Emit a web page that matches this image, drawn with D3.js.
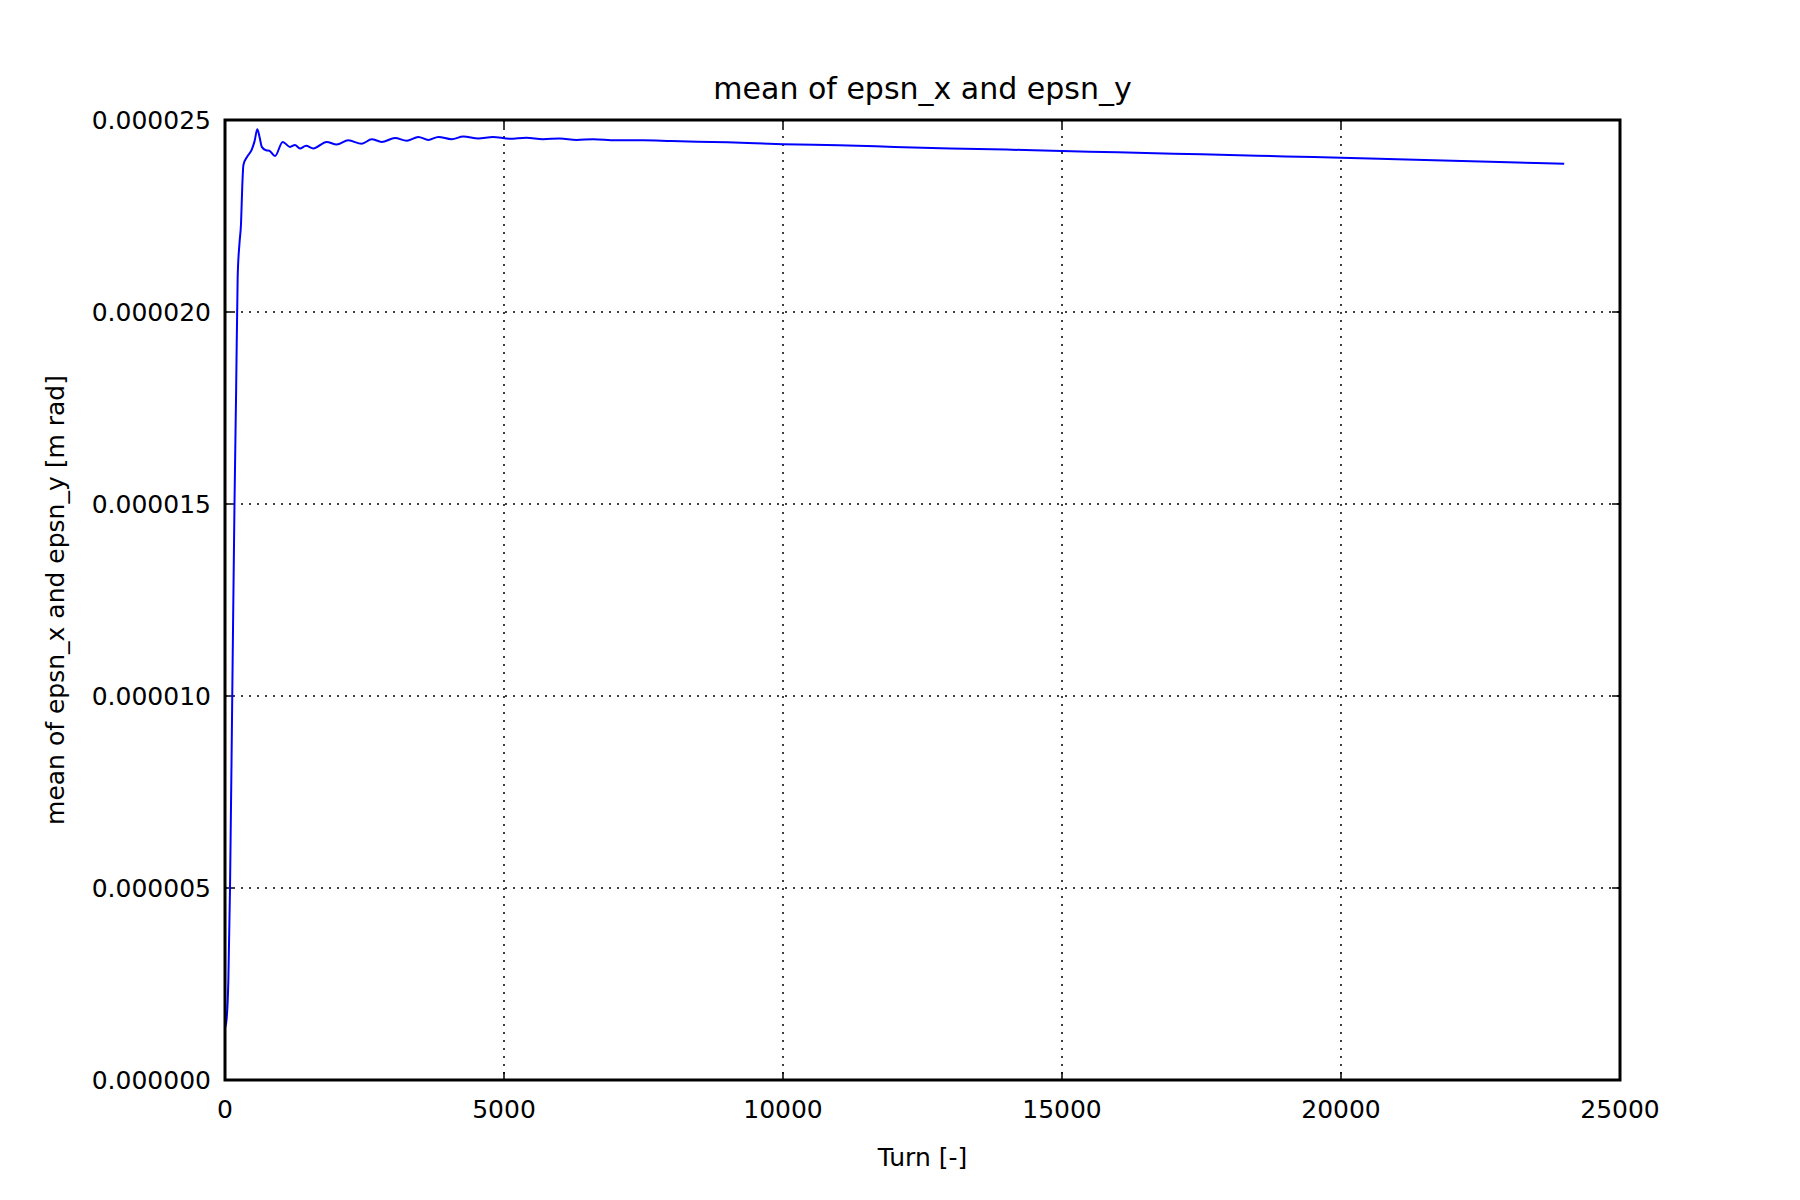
<!DOCTYPE html>
<html><head><meta charset="utf-8">
<script src="https://cdn.jsdelivr.net/npm/d3@7"></script>
<style>body{margin:0;background:#fff}text{font-family:"DejaVu Sans",sans-serif}</style>
</head><body><svg id="c" width="1800" height="1200"></svg>
<script>
const turns = [0,30,60,90,130,170,200,227,260,287,310,330,400,478,530,579,620,660,735,795,896,1034,1165,1254,1344,1452,1583,1822,2001,2210,2450,2629,2808,3047,3256,3465,3644,3823,4062,4271,4540,4800,5100,5400,5700,6000,6300,6600,7000,7500,8000,9000,10000,11000,12000,13000,14000,15000,16000,17000,18000,19000,20000,21000,22000,23000,24000];
const epsn = [1.35,1.6,2.6,5,10,15,18,20.9,21.8,22.3,23.3,23.83,24.05,24.22,24.45,24.76,24.55,24.3,24.21,24.2,24.06,24.43,24.3,24.35,24.26,24.33,24.26,24.43,24.36,24.47,24.38,24.5,24.43,24.53,24.46,24.56,24.48,24.56,24.5,24.57,24.52,24.56,24.51,24.54,24.5,24.52,24.48,24.5,24.47,24.47,24.45,24.42,24.37,24.34,24.3,24.26,24.23,24.19,24.16,24.12,24.09,24.05,24.02,23.98,23.94,23.9,23.86].map(v => v * 1e-6);
const xTicks = [0,5000,10000,15000,20000,25000];
const yTicks = [0,5e-6,10e-6,15e-6,20e-6,25e-6];

const svg = d3.select('#c');
const L = 225, R = 1620, T = 120, B = 1080;
const x = d3.scaleLinear().domain([0, 25000]).range([L, R]);
const y = d3.scaleLinear().domain([0, 25e-6]).range([B, T]);

// grid
svg.append('g').selectAll('line').data(xTicks.slice(1, -1)).enter().append('line')
	.attr('x1', d => x(d)).attr('x2', d => x(d)).attr('y1', T).attr('y2', B)
	.attr('stroke', '#000').attr('stroke-width', 1.5).attr('stroke-dasharray', '2,6');
svg.append('g').selectAll('line').data(yTicks.slice(1, -1)).enter().append('line')
	.attr('y1', d => y(d)).attr('y2', d => y(d)).attr('x1', L).attr('x2', R)
	.attr('stroke', '#000').attr('stroke-width', 1.5).attr('stroke-dasharray', '2,6');

// ticks inside on all sides
const tk = 8;
xTicks.forEach(d => {
	svg.append('line').attr('x1', x(d)).attr('x2', x(d)).attr('y1', B).attr('y2', B - tk).attr('stroke', '#000').attr('stroke-width', 1.5);
	svg.append('line').attr('x1', x(d)).attr('x2', x(d)).attr('y1', T).attr('y2', T + tk).attr('stroke', '#000').attr('stroke-width', 1.5);
	svg.append('text').attr('x', x(d)).attr('y', B + 38).attr('text-anchor', 'middle').attr('font-size', 25).text(d);
});
yTicks.forEach(d => {
	svg.append('line').attr('x1', L).attr('x2', L + tk).attr('y1', y(d)).attr('y2', y(d)).attr('stroke', '#000').attr('stroke-width', 1.5);
	svg.append('line').attr('x1', R).attr('x2', R - tk).attr('y1', y(d)).attr('y2', y(d)).attr('stroke', '#000').attr('stroke-width', 1.5);
	svg.append('text').attr('x', L - 14).attr('y', y(d) + 9).attr('text-anchor', 'end').attr('font-size', 25).text(d.toFixed(6));
});

// line
const pts = turns.map((t, i) => [t, epsn[i]]);
svg.append('path').datum(pts)
	.attr('d', d3.line().x(d => x(d[0])).y(d => y(d[1])).curve(d3.curveMonotoneX))
	.attr('fill', 'none').attr('stroke', '#0000ff').attr('stroke-width', 2);

// frame
svg.append('rect').attr('x', L).attr('y', T).attr('width', R - L).attr('height', B - T)
	.attr('fill', 'none').attr('stroke', '#000').attr('stroke-width', 3);

svg.append('text').attr('x', (L + R) / 2).attr('y', 99).attr('text-anchor', 'middle').attr('font-size', 30).text('mean of epsn_x and epsn_y');
svg.append('text').attr('x', (L + R) / 2).attr('y', 1166).attr('text-anchor', 'middle').attr('font-size', 25).text('Turn [-]');
svg.append('text').attr('transform', `translate(64,${(T + B) / 2}) rotate(-90)`).attr('text-anchor', 'middle').attr('font-size', 25).text('mean of epsn_x and epsn_y [m rad]');
</script></body></html>
